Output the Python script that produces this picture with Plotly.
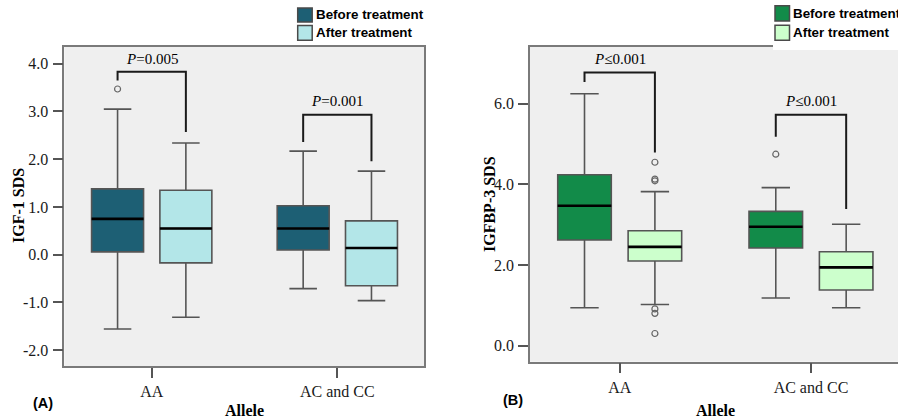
import plotly.graph_objects as go

W, H = 898, 419

categories = ["AA", "AC and CC"]
series_names = ["Before treatment", "After treatment"]

# Panel A: IGF-1 SDS
A_before = dict(q1=[0.06, 0.10], median=[0.75, 0.55], q3=[1.38, 1.025],
                lowerfence=[-1.555, -0.71], upperfence=[3.05, 2.17])
A_after = dict(q1=[-0.17, -0.65], median=[0.55, 0.14], q3=[1.35, 0.71],
               lowerfence=[-1.31, -0.96], upperfence=[2.34, 1.75])
A_before_outliers = [[3.47], []]
A_after_outliers = [[], []]
A_p_text = ["<i>P</i>=0.005", "<i>P</i>=0.001"]
A_bracket_left = [3.65, 2.36]
A_bracket_top = [3.83, 2.93]
A_bracket_right = [2.57, 1.96]
A_p_y = [4.09, 3.22]
A_yticks = [-2.0, -1.0, 0.0, 1.0, 2.0, 3.0, 4.0]

# Panel B: IGFBP-3 SDS
B_before = dict(q1=[2.62, 2.42], median=[3.47, 2.95], q3=[4.24, 3.33],
                lowerfence=[0.94, 1.18], upperfence=[6.25, 3.92])
B_after = dict(q1=[2.10, 1.38], median=[2.45, 1.94], q3=[2.85, 2.33],
               lowerfence=[1.02, 0.94], upperfence=[3.82, 3.01])
B_before_outliers = [[], [4.75]]
B_after_outliers = [[4.55, 4.13, 4.09, 0.91, 0.80, 0.30], []]
B_p_text = ["<i>P</i>≤0.001", "<i>P</i>≤0.001"]
B_bracket_left = [6.54, 5.18]
B_bracket_top = [6.78, 5.73]
B_bracket_right = [4.79, 3.39]
B_p_y = [7.11, 6.08]
B_yticks = [0.0, 2.0, 4.0, 6.0]

A_colors = ["#1D5F74", "#B3E6E8"]
B_colors = ["#128B49", "#CCFFCC"]

OFF = 0.184
BW = 0.28
SERIF = "Liberation Serif"
SANS = "Liberation Sans"

def px(x):
    return x / W

def py(y):
    return 1 - y / H

fig = go.Figure()
shapes = []
annotations = []

def add_panel(xa, ya, before, after, outs_b, outs_a, colors,
              p_text, br_l, br_t, br_r, p_y):
    xpos = list(range(len(categories)))
    for k, (stats, outs, col) in enumerate(
            [(before, outs_b, colors[0]), (after, outs_a, colors[1])]):
        sign = -1 if k == 0 else 1
        xs = [i + sign * OFF for i in xpos]
        fig.add_trace(go.Box(
            x=xs, q1=stats["q1"], median=stats["median"], q3=stats["q3"],
            lowerfence=stats["lowerfence"], upperfence=stats["upperfence"],
            width=BW, whiskerwidth=0.53, fillcolor=col,
            line=dict(color="#555555", width=1.6), boxpoints=False,
            name=series_names[k], showlegend=False, hoverinfo="skip",
            xaxis=xa, yaxis=ya))
        # median lines (black)
        for i, m in enumerate(stats["median"]):
            fig.add_trace(go.Scatter(
                x=[xs[i] - BW / 2, xs[i] + BW / 2], y=[m, m], mode="lines",
                line=dict(color="black", width=2.6), showlegend=False,
                hoverinfo="skip", xaxis=xa, yaxis=ya))
        # outliers
        ox, oy = [], []
        for i, vals in enumerate(outs):
            for v in vals:
                ox.append(xs[i])
                oy.append(v)
        if ox:
            fig.add_trace(go.Scatter(
                x=ox, y=oy, mode="markers",
                marker=dict(symbol="circle-open", size=6, color="#666666",
                            line=dict(width=1.2, color="#666666")),
                showlegend=False, hoverinfo="skip", xaxis=xa, yaxis=ya))
    xref = "x" if xa == "x" else xa
    yref = "y" if ya == "y" else ya
    for i in xpos:
        x0, x1 = i - OFF, i + OFF
        shapes.append(dict(
            type="path", xref=xref, yref=yref,
            path=f"M {x0},{br_l[i]} L {x0},{br_t[i]} L {x1},{br_t[i]} L {x1},{br_r[i]}",
            line=dict(color="#1a1a1a", width=2)))
        annotations.append(dict(
            x=i, y=p_y[i], xref=xref, yref=yref, text=p_text[i],
            showarrow=False, font=dict(family=SERIF, size=15, color="black"),
            xanchor="center", yanchor="middle"))

add_panel("x", "y", A_before, A_after, A_before_outliers, A_after_outliers,
          A_colors, A_p_text, A_bracket_left, A_bracket_top, A_bracket_right, A_p_y)
add_panel("x2", "y2", B_before, B_after, B_before_outliers, B_after_outliers,
          B_colors, B_p_text, B_bracket_left, B_bracket_top, B_bracket_right, B_p_y)

def fmt(v):
    s = f"{v:.1f}"
    return s  # keeps ASCII hyphen for negatives

axis_common = dict(showgrid=False, zeroline=False, ticks="outside", ticklen=10,
                   tickwidth=1.5, tickcolor="#555555", showline=True,
                   linecolor="#7a7a7a", linewidth=1.5,
                   tickfont=dict(family=SERIF, size=16, color="#1a1a1a"))

fig.update_layout(
    width=W, height=H, margin=dict(l=0, r=0, t=0, b=0),
    paper_bgcolor="white", plot_bgcolor="#EFEFEF",
    showlegend=False,
    xaxis=dict(domain=[px(64.3), px(424)], range=[-0.471, 1.467],
               tickvals=[0, 1], ticktext=categories, mirror=True,
               anchor="y", **axis_common),
    yaxis=dict(domain=[py(366), py(47)], range=[-2.33, 4.35],
               tickvals=A_yticks, ticktext=[fmt(v) for v in A_yticks],
               mirror=True, anchor="x", ticklabelstandoff=1, **axis_common),
    xaxis2=dict(domain=[px(530), 1.0], range=[-0.469, 1.455],
                tickvals=[0, 1], ticktext=categories, mirror=True,
                anchor="y2", **axis_common),
    yaxis2=dict(domain=[py(361.7), py(47)], range=[-0.40, 7.41],
                tickvals=B_yticks, ticktext=[fmt(v) for v in B_yticks],
                anchor="x2", ticklabelstandoff=1, **axis_common),
)

# white cover for top border under panel B legend
shapes.append(dict(type="rect", xref="paper", yref="paper", layer="above",
                   x0=px(773), x1=1.0, y0=py(50), y1=py(44),
                   fillcolor="white", line=dict(width=0)))

# custom legends
def legend(x_sw, y_rows, colors):
    for (y0, y1), col, name in zip(y_rows, colors, series_names):
        shapes.append(dict(type="rect", xref="paper", yref="paper", layer="above",
                           x0=px(x_sw), x1=px(x_sw + 14.5), y0=py(y1), y1=py(y0),
                           fillcolor=col, line=dict(color="#4a4a4a", width=1.5)))
        annotations.append(dict(x=px(x_sw + 16), y=py((y0 + y1) / 2), xref="paper",
                                yref="paper", text=f"<b>{name}</b>", showarrow=False,
                                xanchor="left", yanchor="middle",
                                font=dict(family=SANS, size=13.4, color="black")))

legend(297.7, [(8, 22), (25.5, 40.3)], A_colors)
legend(775, [(5.8, 21), (25.2, 40.3)], B_colors)

# titles
for txt, x, y in [("IGF-1 SDS", 18, 206), ("IGFBP-3 SDS", 489, 204)]:
    annotations.append(dict(x=px(x), y=py(y), xref="paper", yref="paper",
                            text=f"<b>{txt}</b>", textangle=-90, showarrow=False,
                            xanchor="center", yanchor="middle",
                            font=dict(family=SERIF, size=16, color="black")))
for x in [244, 715]:
    annotations.append(dict(x=px(x), y=py(410.5), xref="paper", yref="paper",
                            text="<b>Allele</b>", showarrow=False,
                            xanchor="center", yanchor="middle",
                            font=dict(family=SERIF, size=16, color="black")))
for txt, x, y in [("(A)", 43, 403), ("(B)", 512.5, 400)]:
    annotations.append(dict(x=px(x), y=py(y), xref="paper", yref="paper",
                            text=f"<b>{txt}</b>", showarrow=False,
                            xanchor="center", yanchor="middle",
                            font=dict(family=SANS, size=14.5, color="black")))

fig.update_layout(shapes=shapes, annotations=annotations)
fig.write_html("out.html",
               config={"displayModeBar": False},
               post_script="document.body.style.margin='0px';document.body.style.overflow='hidden';")
